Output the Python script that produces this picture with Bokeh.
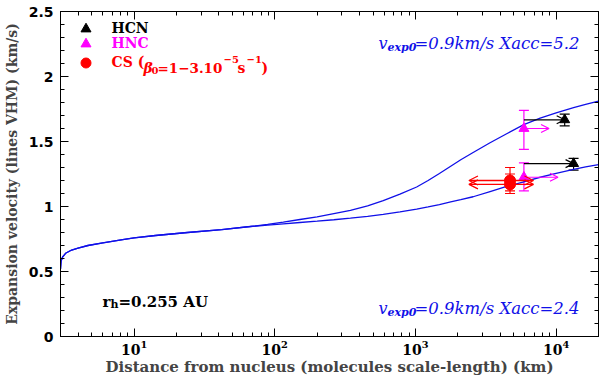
from bokeh.plotting import figure
from bokeh.models import (Range1d, LogAxis, LinearAxis, LogTicker, SingleIntervalTicker, LogScale,
                          Whisker, Arrow, OpenHead, TeeHead, Label, Legend, LegendItem,
                          ColumnDataSource, CustomJSTickFormatter)
from bokeh.embed import file_html
from bokeh.resources import INLINE

# ---------------- data ----------------
model_x = [3.0, 3.03, 3.1, 3.26, 3.6, 4.0, 4.7, 6.0, 8.3, 10, 14.2, 24, 42, 67,
           89, 115, 151, 200, 263, 345, 457, 590, 776, 1020, 1230, 1480, 1780, 2100,
           2570, 3390, 4450, 5890, 7700, 10000, 13300, 16200, 20000]
upper_v = [0.52, 0.58, 0.61, 0.64, 0.665, 0.68, 0.70, 0.72, 0.745, 0.758, 0.777, 0.80, 0.822, 0.846,
           0.862, 0.88, 0.90, 0.92, 0.945, 0.97, 1.005, 1.046, 1.095, 1.15, 1.20, 1.254, 1.31, 1.36,
           1.415, 1.49, 1.56, 1.63, 1.68, 1.72, 1.76, 1.785, 1.81]
lower_v = [0.52, 0.58, 0.61, 0.64, 0.665, 0.68, 0.70, 0.72, 0.745, 0.758, 0.777, 0.80, 0.822, 0.846,
           0.856, 0.867, 0.877, 0.887, 0.898, 0.91, 0.924, 0.94, 0.958, 0.98, 0.997, 1.015, 1.035, 1.052,
           1.075, 1.115, 1.154, 1.19, 1.225, 1.255, 1.285, 1.305, 1.322]

hcn_x = [11500, 13300]
hcn_v = [1.667, 1.33]
hcn_lo = [1.62, 1.28]
hcn_hi = [1.71, 1.37]
hcn_from_x = [5900, 5900]

hnc_x = [5900, 5900]
hnc_v = [1.60, 1.225]
hnc_lo = [1.44, 1.12]
hnc_hi = [1.74, 1.335]
hnc_to_x = [8900, 10300]

cs_x = [4700, 4700]
cs_v = [1.20, 1.17]
cs_lo = [1.12, 1.10]
cs_hi = [1.30, 1.25]
cs_left_x = [2400, 2400]
cs_right_x = [6900, 6900]

SERIF = "DejaVu Serif"
BLUE = "#1010e8"
MAGENTA = "#ff00ff"
RED = "#ff0000"

p = figure(width=600, height=381, x_axis_type=None, y_axis_type=None,
           x_range=Range1d(3, 20000), y_range=Range1d(0, 2.5),
           output_backend="svg", toolbar_location=None,
           min_border_left=60, min_border_right=2, min_border_top=11, min_border_bottom=45)
p.x_scale = LogScale()
p.grid.visible = False
p.outline_line_color = "black"
p.background_fill_color = "white"
p.border_fill_color = "white"


def style_axis(ax, labels=True, size="15px", font="DejaVu Sans"):
    ax.major_tick_in = 8
    ax.major_tick_out = 0
    ax.minor_tick_in = 4
    ax.minor_tick_out = 0
    ax.axis_line_color = "black"
    ax.major_tick_line_color = "black"
    ax.minor_tick_line_color = "black"
    if labels:
        ax.major_label_text_font = font
        ax.major_label_text_font_size = size
        ax.major_label_text_font_style = "bold"
        ax.major_label_text_color = "black"
    else:
        ax.major_label_text_font_size = "1px"
        ax.major_label_text_alpha = 0
        ax.major_label_standoff = 0


xb = LogAxis(ticker=LogTicker(desired_num_ticks=4, num_minor_ticks=10))
style_axis(xb, True, "14px", SERIF)
xb.major_label_standoff = 3
xb.axis_label = "Distance from nucleus (molecules scale-length) (km)"
xb.axis_label_text_font = SERIF
xb.axis_label_text_font_size = "15px"
xb.axis_label_text_font_style = "bold"
xb.axis_label_standoff = 0
p.add_layout(xb, "below")

xt = LogAxis(ticker=LogTicker(desired_num_ticks=4, num_minor_ticks=10))
style_axis(xt, False)
p.add_layout(xt, "above")

yl = LinearAxis(ticker=SingleIntervalTicker(interval=0.5, num_minor_ticks=5),
                formatter=CustomJSTickFormatter(code="return tick.toString()"))
style_axis(yl, True, "14px", "DejaVu Sans")
yl.major_label_standoff = 7
yl.axis_label = "Expansion velocity (lines VHM) (km/s)"
yl.axis_label_text_font = SERIF
yl.axis_label_text_font_size = "14px"
yl.axis_label_text_font_style = "bold"
yl.axis_label_standoff = 6
p.add_layout(yl, "left")

yr = LinearAxis(ticker=SingleIntervalTicker(interval=0.5, num_minor_ticks=5))
style_axis(yr, False)
p.add_layout(yr, "right")

# ---------------- model curves ----------------
p.line(model_x, upper_v, line_color=BLUE, line_width=1.3)
p.line(model_x, lower_v, line_color=BLUE, line_width=1.3)

# ---------------- HCN ----------------
hcn_src = ColumnDataSource(dict(x=hcn_x, v=hcn_v, lo=hcn_lo, hi=hcn_hi, x0=hcn_from_x))
p.add_layout(Arrow(x_start="x0", y_start="v", x_end="x", y_end="v", source=hcn_src,
                   line_color="black", line_width=1.2,
                   end=OpenHead(size=8, line_color="black", line_width=1.2)))
p.add_layout(Whisker(base="x", upper="hi", lower="lo", source=hcn_src, dimension="height",
                     line_color="black", line_width=1.2,
                     upper_head=TeeHead(size=10, line_color="black", line_width=1.2),
                     lower_head=TeeHead(size=10, line_color="black", line_width=1.2)))
hcn_r = p.scatter("x", "v", source=hcn_src, marker="triangle", size=10,
                  fill_color="black", line_color="black")

# ---------------- HNC ----------------
hnc_src = ColumnDataSource(dict(x=hnc_x, v=hnc_v, lo=hnc_lo, hi=hnc_hi, x1=hnc_to_x))
p.add_layout(Arrow(x_start="x", y_start="v", x_end="x1", y_end="v", source=hnc_src,
                   line_color=MAGENTA, line_width=1.2,
                   end=OpenHead(size=8, line_color=MAGENTA, line_width=1.2)))
p.add_layout(Whisker(base="x", upper="hi", lower="lo", source=hnc_src, dimension="height",
                     line_color=MAGENTA, line_width=1.2,
                     upper_head=TeeHead(size=10, line_color=MAGENTA, line_width=1.2),
                     lower_head=TeeHead(size=10, line_color=MAGENTA, line_width=1.2)))
hnc_r = p.scatter("x", "v", source=hnc_src, marker="triangle", size=10,
                  fill_color=MAGENTA, line_color=MAGENTA)

# ---------------- CS ----------------
cs_src = ColumnDataSource(dict(x=cs_x, v=cs_v, lo=cs_lo, hi=cs_hi, xl=cs_left_x, xr=cs_right_x))
p.add_layout(Arrow(x_start="xl", y_start="v", x_end="xr", y_end="v", source=cs_src,
                   line_color=RED, line_width=1.3,
                   start=OpenHead(size=9, line_color=RED, line_width=1.3),
                   end=OpenHead(size=9, line_color=RED, line_width=1.3)))
p.add_layout(Whisker(base="x", upper="hi", lower="lo", source=cs_src, dimension="height",
                     line_color=RED, line_width=1.2,
                     upper_head=TeeHead(size=10, line_color=RED, line_width=1.2),
                     lower_head=TeeHead(size=10, line_color=RED, line_width=1.2)))
cs_r = p.scatter("x", "v", source=cs_src, marker="circle", size=11,
                 fill_color=RED, line_color=RED)

# ---------------- legend (one per entry, own colour) ----------------
FRAME_L, FRAME_B = 60, 336   # page coordinates of frame left/bottom


def add_legend(renderer, label, color, cy):
    box = 25
    left = 85 - box / 2
    top = cy - box / 2
    leg = Legend(items=[LegendItem(label=label, renderers=[renderer])],
                 location=(left - FRAME_L, FRAME_B - (top + box)),
                 glyph_width=box, glyph_height=box,
                 label_standoff=14, padding=0, margin=0,
                 border_line_color=None, background_fill_alpha=0,
                 label_text_font=SERIF, label_text_font_size="14px",
                 label_text_font_style="bold", label_text_color=color)
    p.add_layout(leg, "center")


add_legend(hcn_r, "HCN", "black", 28)
add_legend(hnc_r, "HNC", MAGENTA, 43)
add_legend(cs_r, "CS (", RED, 62)


def lab(px, py, text, size="14px", color="black", style="normal", font=SERIF, align="left"):
    p.add_layout(Label(x=px - FRAME_L, y=FRAME_B - py, x_units="screen", y_units="screen",
                       text=text, text_font=font, text_font_size=size, text_color=color,
                       text_font_style=style, text_baseline="alphabetic", text_align=align))


# CS legend remainder: beta_0 = 1-3.10^-5 s^-1
lab(143, 67, "\u03b2", "14px", RED, "bold italic")
lab(151, 70, "0", "10px", RED, "bold")
lab(157, 67, "=1\u22123.10", "13.5px", RED, "bold")
lab(223, 59, "\u22125", "10px", RED, "bold")
lab(237, 67, "s", "14px", RED, "bold")
lab(246, 59, "\u22121", "10px", RED, "bold")
lab(261, 67, ")", "14px", RED, "bold")

# model annotations
for by in (43, 308):
    lab(378, by, "v", "16px", BLUE, "italic")
    lab(387, by + 4, "exp0", "11px", BLUE, "bold italic")
    lab(414, by, "=0.9km/s Xacc=" + ("5.2" if by < 100 else "2.4"), "16.5px", BLUE, "italic")

# heliocentric distance
lab(102, 301, "r", "15px", "black", "bold")
lab(110, 304, "h", "11px", "black", "bold")
lab(118, 301, "=0.255 AU", "15px", "black", "bold")

open("out.html", "w").write(file_html(p, INLINE))
